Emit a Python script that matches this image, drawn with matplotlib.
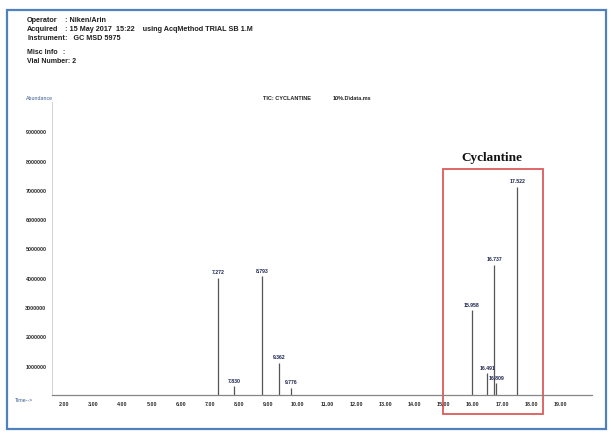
import matplotlib
matplotlib.use("Agg")
import matplotlib.pyplot as plt
from matplotlib.patches import Rectangle

# Retention times (min) and abundances of the detected peaks
ret_times = [7.272, 7.830, 8.793, 9.362, 9.776, 15.958, 16.491, 16.737, 16.809, 17.522]
abundance = [4.0e6, 0.3e6, 4.05e6, 1.1e6, 0.25e6, 2.9e6, 0.75e6, 4.45e6, 0.4e6, 7.1e6]
peak_labels = ["7.272", "7.830", "8.793", "9.362", "9.776",
               "15.958", "16.491", "16.737", "16.809", "17.522"]

# Axis ticks
x_ticks = [2, 3, 4, 5, 6, 7, 8, 9, 10, 11, 12, 13, 14, 15, 16, 17, 18, 19]
y_ticks = [1e6, 2e6, 3e6, 4e6, 5e6, 6e6, 7e6, 8e6, 9e6]

header_lines = [
    ("Operator", ": Niken/Arin"),
    ("Acquired", ": 15 May 2017  15:22    using AcqMethod TRIAL SB 1.M"),
    ("Instrument", ":   GC MSD 5975"),
]
misc_lines = [("Misc Info", ":"), ("Vial Number", ": 2")]

W, H = 611, 435
fig = plt.figure(figsize=(W / 100, H / 100), dpi=100)
fig.patch.set_facecolor("white")

SANS = ["Liberation Sans", "DejaVu Sans"]
SERIF = ["Liberation Serif", "DejaVu Serif"]


def fx(px):
    return px / W


def fy(py):
    return 1 - py / H


# Page frame
fig.patches.append(Rectangle((fx(7), fy(430)), fx(606) - fx(7), fy(11) - fy(430),
                             transform=fig.transFigure, fill=False,
                             edgecolor="#4f81bd", linewidth=1.6))

# Report header
hdr_color = "#1e1e1e"
for i, (lab, val) in enumerate(header_lines):
    y = fy(21 + i * 8.6)
    fig.text(fx(27), y, lab, fontsize=5.2, family=SANS, fontweight="bold",
             color=hdr_color, va="center")
    fig.text(fx(65), y, val, fontsize=5.2, family=SANS, fontweight="bold",
             color=hdr_color, va="center")
for i, (lab, val) in enumerate(misc_lines):
    y = fy(53 + i * 8.2)
    fig.text(fx(27), y, lab if i == 0 else lab + val, fontsize=5.0, family=SANS,
             fontweight="bold", color=hdr_color, va="center")
    if i == 0:
        fig.text(fx(62), y, val, fontsize=5.0, family=SANS, fontweight="bold",
                 color=hdr_color, va="center")

fig.text(fx(39), fy(99), "Abundance", fontsize=3.8, family=SANS, color="#3b5a93",
         ha="center", va="center")
fig.text(fx(287), fy(99), "TIC: CYCLANTINE", fontsize=4.0, family=SANS, fontweight="bold",
         color="#222222", ha="center", va="center")
fig.text(fx(352), fy(99), "10%.D\\data.ms", fontsize=4.0, family=SANS, fontweight="bold",
         color="#222222", ha="center", va="center")
fig.text(fx(24), fy(401), "Time-->", fontsize=3.8, family=SANS, color="#3b5a93",
         ha="center", va="center")

# Chromatogram axes
px_per_min = 29.2
x0_px = 64  # pixel position of 2.00 min
x_left = 2 + (52 - x0_px) / px_per_min
x_right = 2 + (592 - x0_px) / px_per_min
ax = fig.add_axes([fx(52), fy(396), fx(592) - fx(52), fy(103) - fy(396)])
ax.set_xlim(x_left, x_right)
ax.set_ylim(0, 10e6)
ax.set_facecolor("none")

for s in ("top", "right"):
    ax.spines[s].set_visible(False)
ax.spines["left"].set_color("#cccccc")
ax.spines["left"].set_linewidth(0.6)
ax.spines["bottom"].set_color("#858585")
ax.spines["bottom"].set_linewidth(0.9)

ax.set_xticks(x_ticks)
ax.set_xticklabels([f"{t:.2f}" for t in x_ticks], fontsize=3.9, family=SANS,
                   fontweight="bold", color="#2a2a2a")
ax.set_yticks(y_ticks)
ax.set_yticklabels([f"{int(v)}" for v in y_ticks], fontsize=3.9, family=SANS,
                   fontweight="bold", color="#2a2a2a")
ax.tick_params(axis="x", length=0, pad=4)
ax.tick_params(axis="y", length=0, pad=4)

# Peaks
ax.vlines(ret_times, 0, abundance, color="#555555", linewidth=0.9)
for t, a, lab in zip(ret_times, abundance, peak_labels):
    ax.annotate(lab, (t, a), xytext=(0, 2.5), textcoords="offset points",
                ha="center", va="bottom", fontsize=3.7, family=SANS,
                fontweight="bold", color="#1c2350")

# Highlight box around the cyclantine peaks
box_x0 = 2 + (443 - x0_px) / px_per_min
box_x1 = 2 + (543 - x0_px) / px_per_min
box_y0 = (396 - 415) / 29.3 * 1e6
box_y1 = (396 - 170) / 29.3 * 1e6
ax.add_patch(Rectangle((box_x0, box_y0), box_x1 - box_x0, box_y1 - box_y0,
                       fill=False, edgecolor="#dc5a5a", linewidth=1.3, clip_on=False))
ax.text((box_x0 + box_x1) / 2 - 0.05, box_y1 + 0.42e6, "Cyclantine", fontsize=9.5,
        family=SERIF, fontweight="bold", color="#111111", ha="center", va="center",
        clip_on=False)

fig.savefig("out.png", dpi=100, facecolor="white")
